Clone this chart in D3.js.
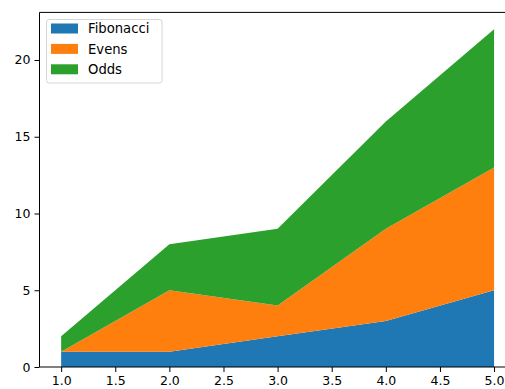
<!DOCTYPE html>
<html><head><meta charset="utf-8">
<script src="https://cdn.jsdelivr.net/npm/d3@7"></script>
<style>body{margin:0;background:#fff;}svg{display:block;}</style>
</head><body>
<svg id="c" width="505" height="389"></svg>
<script>
const xValues = [1, 2, 3, 4, 5];
const fibonacci = [1, 1, 2, 3, 5];
const evens = [0, 4, 2, 6, 8];
const odds = [1, 3, 5, 7, 9];
const seriesNames = ["Fibonacci", "Evens", "Odds"];
const colors = ["#1f77b4", "#ff7f0e", "#2ca02c"];
const xTicks = [1.0, 1.5, 2.0, 2.5, 3.0, 3.5, 4.0, 4.5, 5.0];
const yTicks = [0, 5, 10, 15, 20];

const svg = d3.select("#c");
const font = "DejaVu Sans, sans-serif";
const L = 39.5, R = 515.7, T = 12.4, B = 367;
const x = d3.scaleLinear().domain([0.8, 5.2]).range([L, R]);
const table = xValues.map((v, i) => ({x: v, Fibonacci: fibonacci[i], Evens: evens[i], Odds: odds[i]}));
const stack = d3.stack().keys(seriesNames)(table);
const ymax = d3.max(stack[stack.length - 1], d => d[1]);
const y = d3.scaleLinear().domain([0, ymax * 1.05]).range([B, T]);

const area = d3.area().x(d => x(d.data.x)).y0(d => y(d[0])).y1(d => y(d[1]));
svg.append("g").selectAll("path").data(stack).join("path")
  .attr("d", area).attr("fill", (d, i) => colors[i]);

// spines
svg.append("line").attr("x1", L).attr("x2", R).attr("y1", T).attr("y2", T).attr("stroke", "#000").attr("stroke-width", 1);
svg.append("line").attr("x1", L).attr("x2", R).attr("y1", B).attr("y2", B).attr("stroke", "#000").attr("stroke-width", 1);
svg.append("line").attr("x1", L).attr("x2", L).attr("y1", T).attr("y2", B).attr("stroke", "#000").attr("stroke-width", 1);

const xAxis = d3.axisBottom(x).tickValues(xTicks).tickFormat(d3.format(".1f")).tickSizeOuter(0).tickSize(5).tickPadding(4);
const gx = svg.append("g").attr("transform", `translate(0,${B})`).call(xAxis);
gx.select(".domain").remove();
gx.selectAll("text").attr("font-family", font).attr("font-size", 12.5).attr("fill", "#000");
gx.selectAll("line").attr("stroke", "#000");

const yAxis = d3.axisLeft(y).tickValues(yTicks).tickFormat(d3.format("d")).tickSizeOuter(0).tickSize(5).tickPadding(4);
const gy = svg.append("g").attr("transform", `translate(${L},0)`).call(yAxis);
gy.select(".domain").remove();
gy.selectAll("text").attr("font-family", font).attr("font-size", 12.5).attr("fill", "#000");
gy.selectAll("line").attr("stroke", "#000");

// legend
const lg = svg.append("g");
lg.append("rect").attr("x", 46.5).attr("y", 19.5).attr("width", 115.5).attr("height", 63.5)
  .attr("rx", 2.5).attr("fill", "#fff").attr("fill-opacity", 0.8).attr("stroke", "#d6d6d6");
seriesNames.forEach((name, i) => {
  const cy = 28.5 + i * 20.4;
  lg.append("rect").attr("x", 51).attr("y", cy - 5).attr("width", 27).attr("height", 10).attr("fill", colors[i]);
  lg.append("text").attr("x", 88).attr("y", cy).attr("dy", "0.35em")
    .attr("font-family", font).attr("font-size", 13.2).attr("fill", "#000").text(name);
});
</script>
</body></html>
